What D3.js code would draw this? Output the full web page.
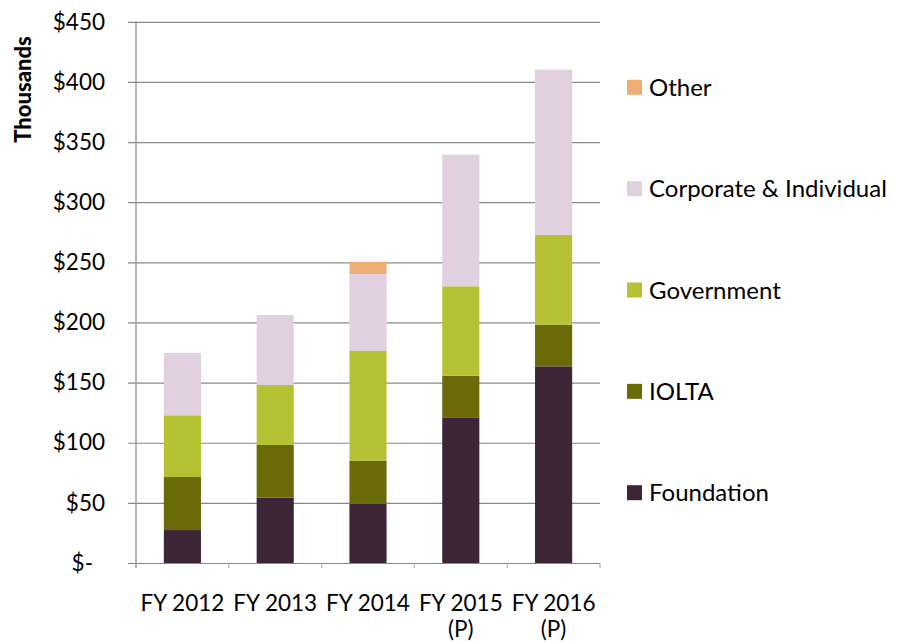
<!DOCTYPE html>
<html>
<head>
<meta charset="utf-8">
<script src="https://cdn.jsdelivr.net/npm/d3@7"></script>
<style>
  html, body { margin: 0; padding: 0; background: #fff; }
  svg { display: block; font-family: Lato, "Open Sans", sans-serif; }
</style>
</head>
<body>
<svg id="chart" width="909" height="642"></svg>
<script>
const categories = ["FY 2012", "FY 2013", "FY 2014", "FY 2015 (P)", "FY 2016 (P)"];
const seriesNames = ["Foundation", "IOLTA", "Government", "Corporate & Individual", "Other"];
const foundation = [27.4, 54.3, 49.3, 121.1, 163.5];
const iolta = [44.1, 43.8, 35.8, 34.6, 34.7];
const government = [51.3, 49.9, 91.2, 74.4, 74.5];
const corporate = [51.8, 58.2, 64.0, 109.4, 137.5];
const other = [0, 0, 10.0, 0, 0];
const yTicks = [0, 50, 100, 150, 200, 250, 300, 350, 400, 450];
const colors = ["#3B2536", "#6A6A08", "#B6C233", "#E1D0DF", "#EDAD73"];

const seriesValues = [foundation, iolta, government, corporate, other];
const rows = categories.map((c, i) => {
  const r = { category: c };
  seriesNames.forEach((s, k) => r[s] = seriesValues[k][i]);
  return r;
});

const svg = d3.select("#chart");
const margin = { left: 136, right: 309, top: 21.8, bottom: 79 };
const W = 909, H = 642;
const x = d3.scaleBand().domain(categories).range([margin.left, W - margin.right]).paddingInner(0.6).paddingOuter(0.3);
const y = d3.scaleLinear().domain([0, 450]).range([H - margin.bottom, margin.top]);
const color = d3.scaleOrdinal().domain(seriesNames).range(colors);

const fontSize = 22.5;
const gridColor = "#898989";
const FONT = "Lato, 'Open Sans', sans-serif";

const yAxis = d3.axisLeft(y).tickValues(yTicks).tickSize(-(W - margin.right - margin.left)).tickSizeOuter(0)
  .tickFormat(d => d === 0 ? "$-" : "$" + d);
const gy = svg.append("g").attr("transform", `translate(${margin.left},0)`).call(yAxis);
gy.select(".domain").remove();
gy.selectAll(".tick line").attr("stroke", gridColor).attr("stroke-width", 1.2).attr("x1", -8);
gy.selectAll(".tick text").attr("x", -31).attr("fill", "#000").attr("font-size", fontSize)
  .attr("font-family", FONT)
  .filter(d => d === 0).attr("x", -43);

const stack = d3.stack().keys(seriesNames);
const stacked = stack(rows);
svg.append("g").selectAll("g").data(stacked).join("g")
  .attr("fill", d => color(d.key))
  .selectAll("rect").data(d => d).join("rect")
  .attr("x", d => x(d.data.category))
  .attr("width", x.bandwidth())
  .attr("y", d => y(d[1]))
  .attr("height", d => Math.max(0, y(d[0]) - y(d[1])));

svg.append("line").attr("x1", margin.left).attr("x2", margin.left)
  .attr("y1", margin.top).attr("y2", y(0) + 5)
  .attr("stroke", gridColor).attr("stroke-width", 1.2);

const step = x.step();
const boundaries = d3.range(categories.length + 1).map(i => margin.left + i * step);
svg.append("g").selectAll("line").data(boundaries).join("line")
  .attr("x1", d => d).attr("x2", d => d)
  .attr("y1", y(0)).attr("y2", y(0) + 5)
  .attr("stroke", "#b0b0b0").attr("stroke-width", 1.2);

const xAxis = d3.axisBottom(x).tickSize(0).tickSizeOuter(0);
const gx = svg.append("g").attr("transform", `translate(0,${y(0)})`).call(xAxis);
gx.select(".domain").remove();
gx.selectAll(".tick text").attr("fill", "#000").attr("font-size", fontSize)
  .attr("font-family", FONT)
  .attr("y", 0).attr("dy", 0)
  .each(function(d) {
    const t = d3.select(this);
    t.text(null);
    const parts = d.split(" (");
    t.append("tspan").attr("x", 0).attr("y", 48).text(parts[0]);
    if (parts[1]) t.append("tspan").attr("x", 0).attr("y", 74).text("(" + parts[1]);
  });

svg.append("text")
  .attr("transform", `translate(31,89.5) rotate(-90)`)
  .attr("text-anchor", "middle")
  .attr("font-size", 22).attr("font-weight", "900").attr("fill", "#000")
  .attr("font-family", FONT)
  .text("Thousands");

const legendItems = seriesNames.slice().reverse();
const legend = svg.append("g").selectAll("g").data(legendItems).join("g")
  .attr("transform", (d, i) => `translate(627,${87.3 + i * 101.35})`);
legend.append("rect").attr("x", 0).attr("y", -7.5).attr("width", 15).attr("height", 15)
  .attr("fill", d => color(d));
legend.append("text").attr("x", 22).attr("y", 0).attr("dy", "0.36em")
  .attr("font-size", 24).attr("font-family", FONT).attr("fill", "#000").text(d => d);
</script>
</body>
</html>
